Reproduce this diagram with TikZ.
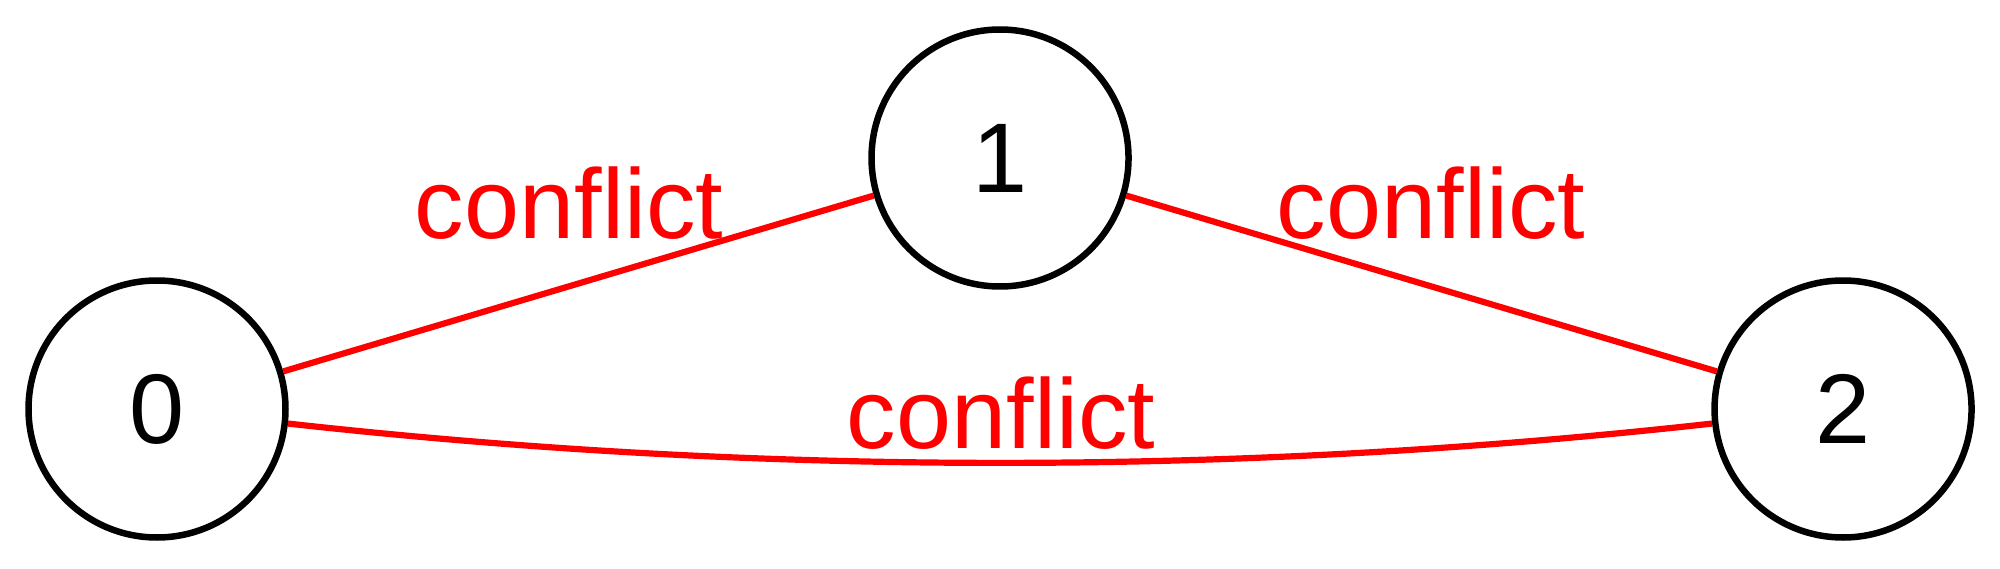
\documentclass[tikz,border=0pt]{standalone}
\usepackage{fontspec}
\setmainfont{Liberation Sans}
\begin{document}
\begin{tikzpicture}[x=0.1pt,y=-0.1pt,
  statenode/.style={circle,draw=black,line width=0.65pt,minimum size=25.7pt,inner sep=0pt,font=\fontsize{9.9}{12}\selectfont},
  edgeline/.style={draw=red,line width=0.62pt},
  edgelabel/.style={text=red,anchor=base,inner sep=0pt,font=\fontsize{9.9}{12}\selectfont}]
\useasboundingbox (0,0) rectangle (2000,568);
\node[statenode] (n0) at (157,409) {0};
\node[statenode] (n1) at (1000,158) {1};
\node[statenode] (n2) at (1843,409) {2};
\coordinate (c1) at (760,476);
\coordinate (c2) at (1240,476);
\draw[edgeline] (n0) -- (n1);
\draw[edgeline] (n1) -- (n2);
\draw[edgeline] (n0) .. controls (c1) and (c2) .. (n2);
\node[edgelabel] (l01) at (569,239) {conflict};
\node[edgelabel] (l12) at (1431,239) {conflict};
\node[edgelabel] (l02) at (1001,448) {conflict};
\end{tikzpicture}
\end{document}
